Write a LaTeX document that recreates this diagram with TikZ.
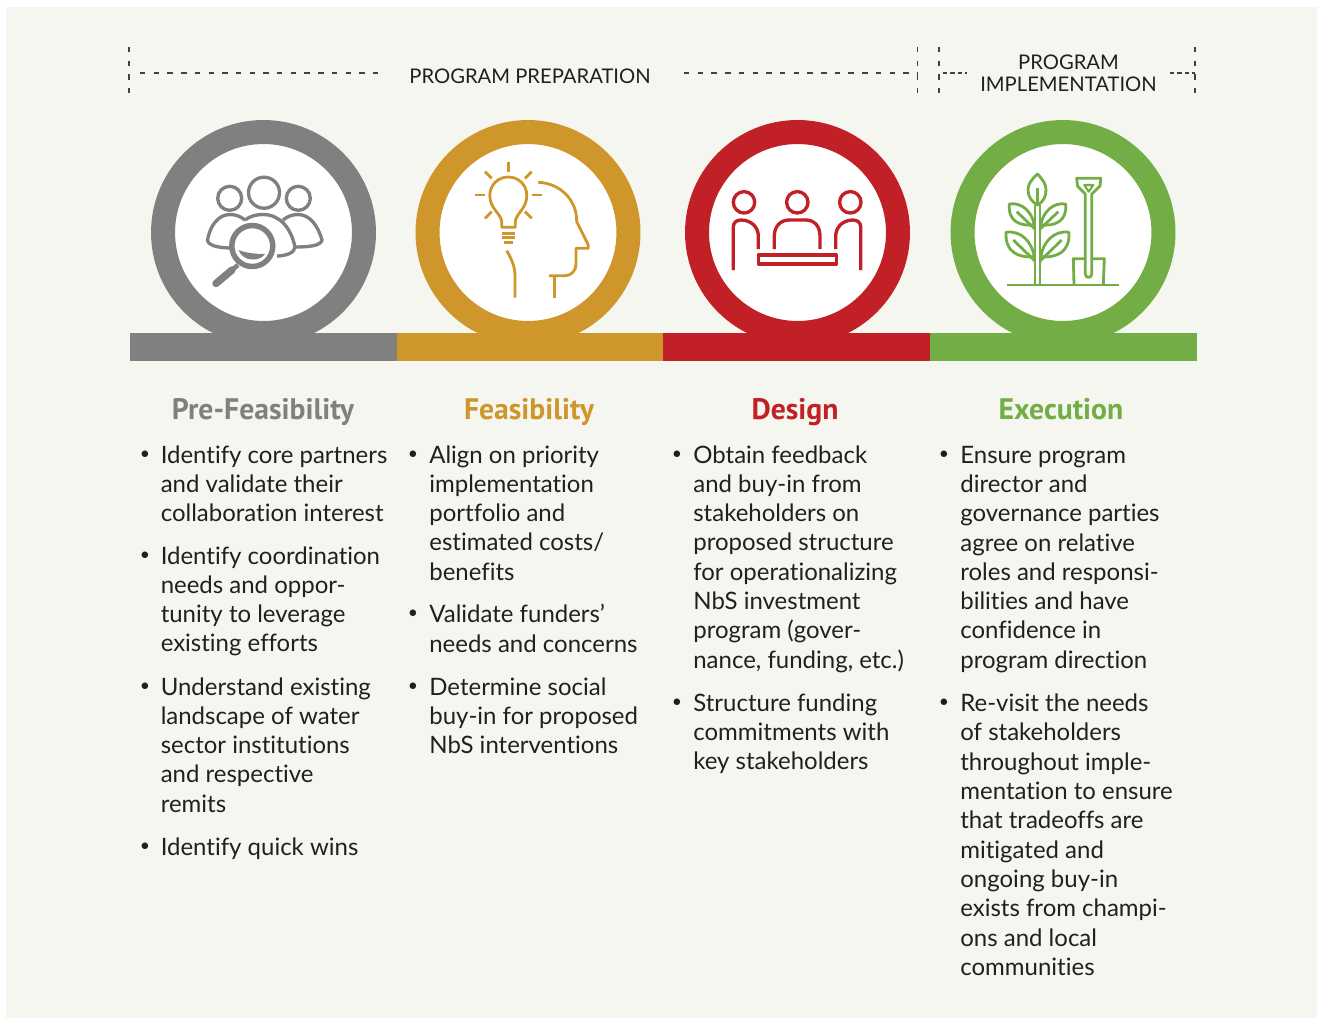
\documentclass[tikz,border=0pt]{standalone}
\usepackage{fontspec}
\setmainfont{Lato}[Ligatures=NoCommon]
\newfontfamily\headfont{PT Sans}
\usetikzlibrary{calc}
\definecolor{paper}{HTML}{F5F6F0}
\definecolor{stepgray}{HTML}{808080}
\definecolor{stepgold}{HTML}{CF962B}
\definecolor{stepred}{HTML}{C12026}
\definecolor{stepgreen}{HTML}{72AE45}
\definecolor{ink}{HTML}{231F20}
\tikzset{
    ring/.style={circle, fill=white, draw=#1, line width=13.66pt, minimum size=40.2mm, inner sep=0pt},
    bar/.style={fill=#1},
    icon/.style={draw=#1, line width=1.6pt, line join=round},
    headline/.style={anchor=base, font=\headfont\bfseries\fontsize{16.9}{19}\selectfont, text=#1},
    item/.style={anchor=north west, align=left, inner sep=0pt, text=ink, font=\fontsize{13.65}{16.68}\selectfont},
    dot/.style={inner sep=0pt, text=ink, font=\fontsize{10}{12}\selectfont},
    phase/.style={inner sep=0pt, align=center, text=ink, font=\fontsize{11.5}{12.6}\selectfont},
    dashline/.style={draw=ink!85, line width=1pt, dash pattern=on 3.1pt off 4.7pt},
    dashshort/.style={draw=ink!85, line width=1pt, dash pattern=on 2.5pt off 1.7pt}
}

\begin{document}
\begin{tikzpicture}[x=0.02cm, y=-0.02cm]
    \useasboundingbox (0,0) rectangle (1317,1018);
    \fill[paper] (6,7) rectangle (1317,1018);

    % Phase brackets
    \coordinate (P1) at (129,47);
    \coordinate (P2) at (129,93);
    \coordinate (P3) at (917.5,47);
    \coordinate (P4) at (917.5,93);
    \coordinate (P5) at (939,47);
    \coordinate (P6) at (939,93);
    \coordinate (P7) at (1195,47);
    \coordinate (P8) at (1195,93);
    \draw[dashline] (P1) -- (P2);
    \draw[dashline] (P3) -- (P4);
    \draw[dashline] (P5) -- (P6);
    \draw[dashline] (P7) -- (P8);
    \draw[dashline] (140,72.7) -- (378,72.7);
    \draw[dashline] (684,72.7) -- (917,72.7);
    \draw[dashshort] (943,72.7) -- (967,72.7);
    \draw[dashshort] (1170,72.7) -- (1195,72.7);
    \node[phase] (preparation) at (530,76) {PROGRAM PREPARATION};
    \node[phase] (implementation) at (1068.5,73.5) {PROGRAM\\IMPLEMENTATION};

    % Rings
    \node[ring=stepgray] (ring1) at (263.5,232.5) {};
    \node[ring=stepgold] (ring2) at (528,232.5) {};
    \node[ring=stepred] (ring3) at (797.5,232.5) {};
    \node[ring=stepgreen] (ring4) at (1063,232.5) {};

    % Bar
    \fill[bar=stepgray] (130,333) rectangle (397,361);
    \fill[bar=stepgold] (397,333) rectangle (663,361);
    \fill[bar=stepred] (663,333) rectangle (930,361);
    \fill[bar=stepgreen] (930,333) rectangle (1197,361);

    % Icon: people and magnifier
    \draw[icon=stepgray, line width=1.9pt] (264,192.7) circle (15.5);
    \draw[icon=stepgray, line width=1.9pt] (229.7,198.3) circle (12);
    \draw[icon=stepgray, line width=1.9pt] (298.3,198.3) circle (12);
    \draw[icon=stepgray, line width=1.9pt] (245,220) .. controls (240,216) and (235,214.5) .. (230,214.5) .. controls (218,214.5) and (210,226) .. (207.5,240) .. controls (208,246) and (220,248) .. (232,248);
    \draw[icon=stepgray, line width=1.9pt] (283,220) .. controls (288,216) and (293,214.5) .. (298,214.5) .. controls (310,214.5) and (318,226) .. (322,240) .. controls (321,246) and (308,247) .. (295,247);
    \draw[icon=stepgray, line width=1.9pt] (245,220) .. controls (250,216) and (257,214.5) .. (263,214.5) .. controls (280,214.5) and (291,228) .. (295,247) .. controls (295,253) and (285,256) .. (277,256);
    \draw[icon=stepgray, fill=white, line width=3.1pt] (252.3,246) circle (20.5);
    \fill[stepgray] (238.5,250) .. controls (246,253) and (256,254) .. (265,254) .. controls (260,262) and (243,262) .. (238.5,250);
    \draw[icon=stepgray, line width=2.6pt] (238,265) -- (232,270);
    \draw[icon=stepgray, line width=4.2pt, line cap=round] (232,270) -- (216,283.5);

    % Icon: bulb and head
    \draw[icon=stepgold] (501.7,227.3) -- (501.7,222) .. controls (501.7,214) and (489.8,209) .. (489.8,195.5) .. controls (489.8,185) and (498,177) .. (508.3,177) .. controls (518.6,177) and (526.8,185) .. (526.8,195.5) .. controls (526.8,209) and (515.3,214) .. (515.3,222) -- (515.3,227.3) -- cycle;
    \draw[icon=stepgold] (501.7,233.3) -- (515.3,233.3);
    \draw[icon=stepgold] (501.7,237.7) -- (515.3,237.7);
    \draw[icon=stepgold] (504,242.3) -- (512.7,242.3);
    \draw[icon=stepgold] (508.3,161.7) -- (508.3,171.7);
    \draw[icon=stepgold] (475,195) -- (485,195);
    \draw[icon=stepgold] (531.7,195) -- (541.7,195);
    \draw[icon=stepgold] (485,171.7) -- (491.7,178.3);
    \draw[icon=stepgold] (531.7,171.7) -- (525,178.3);
    \draw[icon=stepgold] (485,218.3) -- (491.7,211.7);
    \draw[icon=stepgold] (531.7,218.3) -- (525,211.7);
    \draw[icon=stepgold] (538.3,182.3) .. controls (558,183) and (577,198) .. (576.7,221.7) -- (588.3,245) -- (588.3,248.3) -- (576,248.3) -- (576,264) .. controls (576,271) and (571,275.7) .. (565,275.7) -- (549,275.7);
    \draw[icon=stepgold] (554.3,275.7) -- (554.3,297.7);
    \draw[icon=stepgold] (506.7,250.7) .. controls (511,258) and (515,266) .. (515,276) -- (515,297.7);

    % Icon: meeting table
    \draw[icon=stepred, line width=1.9pt] (744,202.3) circle (10.7);
    \draw[icon=stepred, line width=1.9pt] (797.3,202.3) circle (10.7);
    \draw[icon=stepred, line width=1.9pt] (850.3,202.3) circle (10.7);
    \draw[icon=stepred, line width=1.9pt] (733.3,270) -- (733.3,227) .. controls (733.3,223) and (736,220) .. (741,220) .. controls (751,220) and (758.3,227) .. (758.3,236) -- (758.3,249);
    \draw[icon=stepred, line width=1.9pt] (774.3,249) -- (774.3,236) .. controls (774.3,226) and (781,220) .. (789,220) -- (806,220) .. controls (814,220) and (820,226) .. (820,236) -- (820,249);
    \draw[icon=stepred, line width=1.9pt] (860.7,270) -- (860.7,227) .. controls (860.7,223) and (858,220) .. (853,220) .. controls (843,220) and (835.7,227) .. (835.7,236) -- (835.7,249);
    \draw[icon=stepred, line width=1.9pt] (758.5,255) rectangle (836.5,264);

    % Icon: plant and spade
    \draw[icon=stepgreen, line width=1.3pt] (1007.3,284.7) -- (1119.3,284.7);
    \draw[icon=stepgreen] (1035,284.7) -- (1035,205);
    \draw[icon=stepgreen] (1040,284.7) -- (1040,205);
    \draw[icon=stepgreen] (1037.5,174) .. controls (1031,180) and (1028,184) .. (1028,190) .. controls (1028,197) and (1032,202) .. (1037.5,205) .. controls (1043,202) and (1046,197) .. (1046,190) .. controls (1046,184) and (1043,180) .. (1037.5,174) -- cycle;
    \draw[icon=stepgreen] (1037.5,188.3) -- (1037.5,205);
    \draw[icon=stepgreen] (1009.3,204) .. controls (1022,202) and (1032,212) .. (1034.3,225) .. controls (1020,226) and (1008,222) .. (1009.3,204) -- cycle;
    \draw[icon=stepgreen] (1016.7,211.7) -- (1035,229);
    \draw[icon=stepgreen] (1065.7,204) .. controls (1053,202) and (1043,212) .. (1040.7,225) .. controls (1055,226) and (1067,222) .. (1065.7,204) -- cycle;
    \draw[icon=stepgreen] (1058.3,211.7) -- (1040,229);
    \draw[icon=stepgreen] (1006,232.3) .. controls (1021,230) and (1032,242) .. (1034.3,256.7) .. controls (1018,258) and (1005,252) .. (1006,232.3) -- cycle;
    \draw[icon=stepgreen] (1013.3,240) -- (1035,261);
    \draw[icon=stepgreen] (1069,232.3) .. controls (1054,230) and (1043,242) .. (1040.7,256.7) .. controls (1057,258) and (1070,252) .. (1069,232.3) -- cycle;
    \draw[icon=stepgreen] (1061.7,240) -- (1040,261);
    \draw[icon=stepgreen] (1085.3,194) -- (1085.3,274) .. controls (1085.3,278.5) and (1091.7,278.5) .. (1091.7,274) -- (1091.7,194) -- (1100,186) -- (1100.7,178.3) -- (1076.7,178.3) -- (1077.5,186) -- cycle;
    \draw[icon=stepgreen, line width=1.2pt] (1084.3,185) -- (1093.3,185) -- (1088.7,191.7) -- cycle;
    \draw[icon=stepgreen] (1085.3,258.7) -- (1073.3,258.7) -- (1074,284.7);
    \draw[icon=stepgreen] (1091.7,258.7) -- (1104.3,258.7) -- (1103.3,284.7);

    % Headings
    \node[headline=stepgray] (head1) at (263,419) {Pre-Feasibility};
    \node[headline=stepgold] (head2) at (529,419) {Feasibility};
    \node[headline=stepred] (head3) at (795,419) {Design};
    \node[headline=stepgreen] (head4) at (1061,419) {Execution};

    % Column 1
    \node[dot] (dot1a) at (145,455) {•};
    \node[item] (item1a) at (160.4,445) {Identify core partners\\and validate their\\collaboration interest};
    \node[dot] (dot1b) at (145,556) {•};
    \node[item] (item1b) at (160.4,546) {Identify coordination\\needs and oppor-\\tunity to leverage\\existing efforts};
    \node[dot] (dot1c) at (145,687) {•};
    \node[item] (item1c) at (160.4,677) {Understand existing\\landscape of water\\sector institutions\\and respective\\remits};
    \node[dot] (dot1d) at (145,847) {•};
    \node[item] (item1d) at (160.4,837) {Identify quick wins};

    % Column 2
    \node[dot] (dot2a) at (413,455) {•};
    \node[item] (item2a) at (429,445) {Align on priority\\implementation\\portfolio and\\estimated costs/\\benefits};
    \node[dot] (dot2b) at (413,614) {•};
    \node[item] (item2b) at (429,604) {Validate funders’\\needs and concerns};
    \node[dot] (dot2c) at (413,687) {•};
    \node[item] (item2c) at (429,677) {Determine social\\buy-in for proposed\\NbS interventions};

    % Column 3
    \node[dot] (dot3a) at (677,455) {•};
    \node[item] (item3a) at (693,445) {Obtain feedback\\and buy-in from\\stakeholders on\\proposed structure\\for operationalizing\\NbS investment\\program (gover-\\nance, funding, etc.)};
    \node[dot] (dot3b) at (677,703) {•};
    \node[item] (item3b) at (693,693) {Structure funding\\commitments with\\key stakeholders};

    % Column 4
    \node[dot] (dot4a) at (944,455) {•};
    \node[item] (item4a) at (960,445.6) {Ensure program\\director and\\governance parties\\agree on relative\\roles and responsi-\\bilities and have\\confidence in\\program direction};
    \node[dot] (dot4b) at (944,703) {•};
    \node[item] (item4b) at (960,693.6) {Re-visit the needs\\of stakeholders\\throughout imple-\\mentation to ensure\\that tradeoffs are\\mitigated and\\ongoing buy-in\\exists from champi-\\ons and local\\communities};
\end{tikzpicture}
\end{document}
